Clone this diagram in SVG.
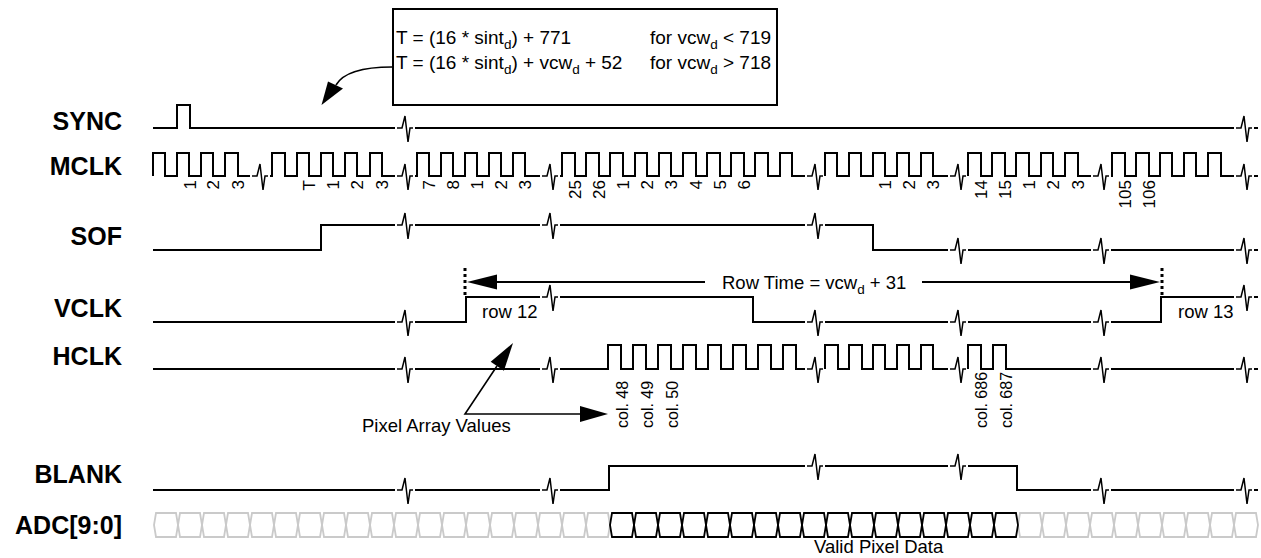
<svg xmlns="http://www.w3.org/2000/svg" xmlns:xlink="http://www.w3.org/1999/xlink" width="1261" height="558" viewBox="0 0 1261 558">
<style>
.sig{fill:none;stroke:#000;stroke-width:2}
.brk{fill:none;stroke:#000;stroke-width:1.5}
.lbl{font-family:"Liberation Sans",Arial,sans-serif;font-weight:bold;font-size:25px;text-anchor:end;fill:#000}
.t18{font-family:"Liberation Sans",Arial,sans-serif;font-size:18.5px;fill:#000}
.box{font-size:19px}
.sub{font-size:13.5px}
.num{font-family:"Liberation Sans",Arial,sans-serif;font-size:17px;text-anchor:end;fill:#000}
.col{font-family:"Liberation Sans",Arial,sans-serif;font-size:16px;text-anchor:start;fill:#000}
.cg{fill:none;stroke:#cacaca;stroke-width:1.8}
.cb{fill:none;stroke:#000;stroke-width:1.8}
.ln{fill:none;stroke:#000;stroke-width:1.6}
.dot{fill:none;stroke:#000;stroke-width:3;stroke-dasharray:3 3}
.ah{fill:#000;stroke:none}
</style>
<defs>
<path id="brk" d="M-8,0 H-3 L0,-12 L3,14 L5,0 H8"/>
</defs>
<rect width="1261" height="558" fill="#fff"/>

<g id="sig-sync">
<text class="lbl" x="122" y="130">SYNC</text>
<path class="sig" d="M153,128 H177 V105 H190 V128 H395 M415,128 H1234 M1254,128 H1258"/>
<use href="#brk" class="brk" x="405" y="128"/><use href="#brk" class="brk" x="1244" y="128"/>
</g>

<g id="sig-mclk">
<text class="lbl" x="122" y="175">MCLK</text>
<path class="sig" d="M153,176 V153 H165 V176 H177 V153 H189 V176 H201 V153 H213 V176 H225 V153 H238 V176 H250
M270,176 H272 V153 H285 V176 H297 V153 H309 V176 H321 V153 H333 V176 H345 V153 H357 V176 H370 V153 H382 V176 H395
M415,176 H417 V153 H429 V176 H441 V153 H453 V176 H465 V153 H477 V176 H489 V153 H501 V176 H513 V153 H525 V176 H540
M560,176 H562 V153 H575 V176 H586 V153 H599 V176 H610 V153 H623 V176 H635 V153 H647 V176 H659 V153 H671 V176 H683 V153 H696 V176 H707 V153 H720 V176 H731 V153 H744 V176 H755 V153 H768 V176 H780 V153 H792 V176 H805
M825,176 V153 H837 V176 H849 V153 H861 V176 H873 V153 H885 V176 H897 V153 H909 V176 H921 V153 H933 V176 H948
M968,176 V153 H981 V176 H992 V153 H1005 V176 H1016 V153 H1029 V176 H1041 V153 H1053 V176 H1065 V153 H1078 V176 H1091
M1111,176 H1112 V153 H1125 V176 H1136 V153 H1149 V176 H1160 V153 H1172 V176 H1184 V153 H1196 V176 H1208 V153 H1221 V176 H1234
M1254,176 H1258"/>
<use href="#brk" class="brk" x="260" y="176"/><use href="#brk" class="brk" x="405" y="176"/><use href="#brk" class="brk" x="550" y="176"/><use href="#brk" class="brk" x="815" y="176"/><use href="#brk" class="brk" x="958" y="176"/><use href="#brk" class="brk" x="1101" y="176"/><use href="#brk" class="brk" x="1244" y="176"/>
<g class="num">
<text transform="translate(196,180) rotate(-90)">1</text>
<text transform="translate(219,180) rotate(-90)">2</text>
<text transform="translate(244,180) rotate(-90)">3</text>
<text transform="translate(315,180) rotate(-90)">T</text>
<text transform="translate(339,180) rotate(-90)">1</text>
<text transform="translate(363,180) rotate(-90)">2</text>
<text transform="translate(388,180) rotate(-90)">3</text>
<text transform="translate(435,180) rotate(-90)">7</text>
<text transform="translate(459,180) rotate(-90)">8</text>
<text transform="translate(483,180) rotate(-90)">1</text>
<text transform="translate(507,180) rotate(-90)">2</text>
<text transform="translate(531,180) rotate(-90)">3</text>
<text transform="translate(581,180) rotate(-90)">25</text>
<text transform="translate(605,180) rotate(-90)">26</text>
<text transform="translate(629,180) rotate(-90)">1</text>
<text transform="translate(653,180) rotate(-90)">2</text>
<text transform="translate(677,180) rotate(-90)">3</text>
<text transform="translate(702,180) rotate(-90)">4</text>
<text transform="translate(726,180) rotate(-90)">5</text>
<text transform="translate(750,180) rotate(-90)">6</text>
<text transform="translate(891,180) rotate(-90)">1</text>
<text transform="translate(915,180) rotate(-90)">2</text>
<text transform="translate(939,180) rotate(-90)">3</text>
<text transform="translate(987,180) rotate(-90)">14</text>
<text transform="translate(1011,180) rotate(-90)">15</text>
<text transform="translate(1035,180) rotate(-90)">1</text>
<text transform="translate(1059,180) rotate(-90)">2</text>
<text transform="translate(1084,180) rotate(-90)">3</text>
<text transform="translate(1131,180) rotate(-90)">105</text>
<text transform="translate(1155,180) rotate(-90)">106</text>
</g>
</g>

<g id="sig-sof">
<text class="lbl" x="122" y="245">SOF</text>
<path class="sig" d="M153,250 H321 V225 H395 M415,225 H540 M560,225 H805 M825,225 H873 V250 H948 M968,250 H1091 M1111,250 H1234 M1254,250 H1258"/>
<use href="#brk" class="brk" x="405" y="225"/><use href="#brk" class="brk" x="550" y="225"/><use href="#brk" class="brk" x="815" y="225"/><use href="#brk" class="brk" x="958" y="250"/><use href="#brk" class="brk" x="1101" y="250"/><use href="#brk" class="brk" x="1244" y="250"/>
</g>

<g id="sig-vclk">
<text class="lbl" x="122" y="317">VCLK</text>
<path class="sig" d="M153,322 H395 M415,322 H466 V297 H540 M560,297 H753 V322 H805 M825,322 H948 M968,322 H1091 M1111,322 H1161 V297 H1234 M1254,297 H1258"/>
<use href="#brk" class="brk" x="405" y="322"/><use href="#brk" class="brk" x="550" y="297"/><use href="#brk" class="brk" x="815" y="322"/><use href="#brk" class="brk" x="958" y="322"/><use href="#brk" class="brk" x="1101" y="322"/><use href="#brk" class="brk" x="1244" y="297"/>
<text class="t18" x="482" y="318">row 12</text>
<text class="t18" x="1178" y="318">row 13</text>
</g>

<g id="sig-hclk">
<text class="lbl" x="122" y="365">HCLK</text>
<path class="sig" d="M153,369 H395 M415,369 H540 M560,369 H608 V345 H621 V369 H633 V345 H646 V369 H658 V345 H671 V369 H683 V345 H696 V369 H708 V345 H721 V369 H733 V345 H746 V369 H758 V345 H771 V369 H783 V345 H796 V369 H805
M825,369 V345 H838 V369 H849 V345 H862 V369 H873 V345 H885 V369 H897 V345 H909 V369 H921 V345 H933 V369 H948
M968,369 V345 H981 V369 H993 V345 H1006 V369 H1091 M1111,369 H1234 M1254,369 H1258"/>
<use href="#brk" class="brk" x="405" y="369"/><use href="#brk" class="brk" x="550" y="369"/><use href="#brk" class="brk" x="815" y="369"/><use href="#brk" class="brk" x="958" y="369"/><use href="#brk" class="brk" x="1101" y="369"/><use href="#brk" class="brk" x="1244" y="369"/>
<g class="col">
<text transform="translate(627.5,428) rotate(-90)">col. 48</text>
<text transform="translate(652.5,428) rotate(-90)">col. 49</text>
<text transform="translate(677.5,428) rotate(-90)">col. 50</text>
<text transform="translate(986.5,428) rotate(-90)">col. 686</text>
<text transform="translate(1011.5,428) rotate(-90)">col. 687</text>
</g>
</g>

<g id="sig-blank">
<text class="lbl" x="122" y="483">BLANK</text>
<path class="sig" d="M153,490 H395 M415,490 H540 M560,490 H609 V466 H805 M825,466 H948 M968,466 H1017 V490 H1091 M1111,490 H1234 M1254,490 H1258"/>
<use href="#brk" class="brk" x="405" y="490"/><use href="#brk" class="brk" x="550" y="490"/><use href="#brk" class="brk" x="815" y="466"/><use href="#brk" class="brk" x="958" y="466"/><use href="#brk" class="brk" x="1101" y="490"/><use href="#brk" class="brk" x="1244" y="490"/>
</g>

<g id="sig-adc">
<text class="lbl" x="122" y="534">ADC[9:0]</text>
<path class="cg" d="M154,525 l2,-12 h20 l2,12 l-2,12 h-20z M178,525 l2,-12 h20 l2,12 l-2,12 h-20z M202,525 l2,-12 h20 l2,12 l-2,12 h-20z M226,525 l2,-12 h20 l2,12 l-2,12 h-20z M250,525 l2,-12 h20 l2,12 l-2,12 h-20z M274,525 l2,-12 h20 l2,12 l-2,12 h-20z M298,525 l2,-12 h20 l2,12 l-2,12 h-20z M322,525 l2,-12 h20 l2,12 l-2,12 h-20z M346,525 l2,-12 h20 l2,12 l-2,12 h-20z M370,525 l2,-12 h20 l2,12 l-2,12 h-20z M394,525 l2,-12 h20 l2,12 l-2,12 h-20z M418,525 l2,-12 h20 l2,12 l-2,12 h-20z M442,525 l2,-12 h20 l2,12 l-2,12 h-20z M466,525 l2,-12 h20 l2,12 l-2,12 h-20z M490,525 l2,-12 h20 l2,12 l-2,12 h-20z M514,525 l2,-12 h20 l2,12 l-2,12 h-20z M538,525 l2,-12 h20 l2,12 l-2,12 h-20z M562,525 l2,-12 h20 l2,12 l-2,12 h-20z M586,525 l2,-12 h20 l2,12 l-2,12 h-20z
M1018,525 l2,-12 h20 l2,12 l-2,12 h-20z M1042,525 l2,-12 h20 l2,12 l-2,12 h-20z M1066,525 l2,-12 h20 l2,12 l-2,12 h-20z M1090,525 l2,-12 h20 l2,12 l-2,12 h-20z M1114,525 l2,-12 h20 l2,12 l-2,12 h-20z M1138,525 l2,-12 h20 l2,12 l-2,12 h-20z M1162,525 l2,-12 h20 l2,12 l-2,12 h-20z M1186,525 l2,-12 h20 l2,12 l-2,12 h-20z M1210,525 l2,-12 h20 l2,12 l-2,12 h-20z M1234,525 l2,-12 h20 l2,12 l-2,12 h-20z"/>
<path class="cb" d="M610,525 l2,-12 h20 l2,12 l-2,12 h-20z M634,525 l2,-12 h20 l2,12 l-2,12 h-20z M658,525 l2,-12 h20 l2,12 l-2,12 h-20z M682,525 l2,-12 h20 l2,12 l-2,12 h-20z M706,525 l2,-12 h20 l2,12 l-2,12 h-20z M730,525 l2,-12 h20 l2,12 l-2,12 h-20z M754,525 l2,-12 h20 l2,12 l-2,12 h-20z M778,525 l2,-12 h20 l2,12 l-2,12 h-20z M802,525 l2,-12 h20 l2,12 l-2,12 h-20z M826,525 l2,-12 h20 l2,12 l-2,12 h-20z M850,525 l2,-12 h20 l2,12 l-2,12 h-20z M874,525 l2,-12 h20 l2,12 l-2,12 h-20z M898,525 l2,-12 h20 l2,12 l-2,12 h-20z M922,525 l2,-12 h20 l2,12 l-2,12 h-20z M946,525 l2,-12 h20 l2,12 l-2,12 h-20z M970,525 l2,-12 h20 l2,12 l-2,12 h-20z M994,525 l2,-12 h20 l2,12 l-2,12 h-20z"/>
<text class="t18" x="814" y="553">Valid Pixel Data</text>
</g>

<g id="note-box">
<rect x="393" y="9" width="384" height="96" fill="#fff" stroke="#000" stroke-width="2"/>
<text class="t18 box" x="396" y="44">T = (16 * sint<tspan class="sub" dy="5">d</tspan><tspan dy="-5">) + 771</tspan></text>
<text class="t18 box" x="650" y="44">for vcw<tspan class="sub" dy="5">d</tspan><tspan dy="-5"> &lt; 719</tspan></text>
<text class="t18 box" x="396" y="69">T = (16 * sint<tspan class="sub" dy="5">d</tspan><tspan dy="-5">) + vcw</tspan><tspan class="sub" dy="5">d</tspan><tspan dy="-5"> + 52</tspan></text>
<text class="t18 box" x="650" y="69">for vcw<tspan class="sub" dy="5">d</tspan><tspan dy="-5"> &gt; 718</tspan></text>
</g>

<g id="row-time">
<text class="t18" x="722" y="289">Row Time = vcw<tspan class="sub" dy="5">d</tspan><tspan dy="-5"> + 31</tspan></text>
</g>

<g id="pixel-array-label">
<text class="t18" x="362" y="432">Pixel Array Values</text>
</g>

<g id="connectors">
<path class="ln" d="M392,67 C362,67 343,73 336,85"/>
<polygon class="ah" points="321.5,105 328,81.5 343,88.5"/>
<line class="dot" x1="465" y1="268" x2="465" y2="296"/>
<line class="dot" x1="1162" y1="268" x2="1162" y2="296"/>
<path class="sig" d="M497,282 H705 M922,282 H1130"/>
<polygon class="ah" points="467,282 497,274.5 497,289.5"/>
<polygon class="ah" points="1160,282 1130,274.5 1130,289.5"/>
<path class="ln" d="M497,366 L465,414 H580"/>
<polygon class="ah" points="513,343 490.7,361.7 503.9,370.7"/>
<polygon class="ah" points="608,414 580,406 580,422"/>
</g>
</svg>
